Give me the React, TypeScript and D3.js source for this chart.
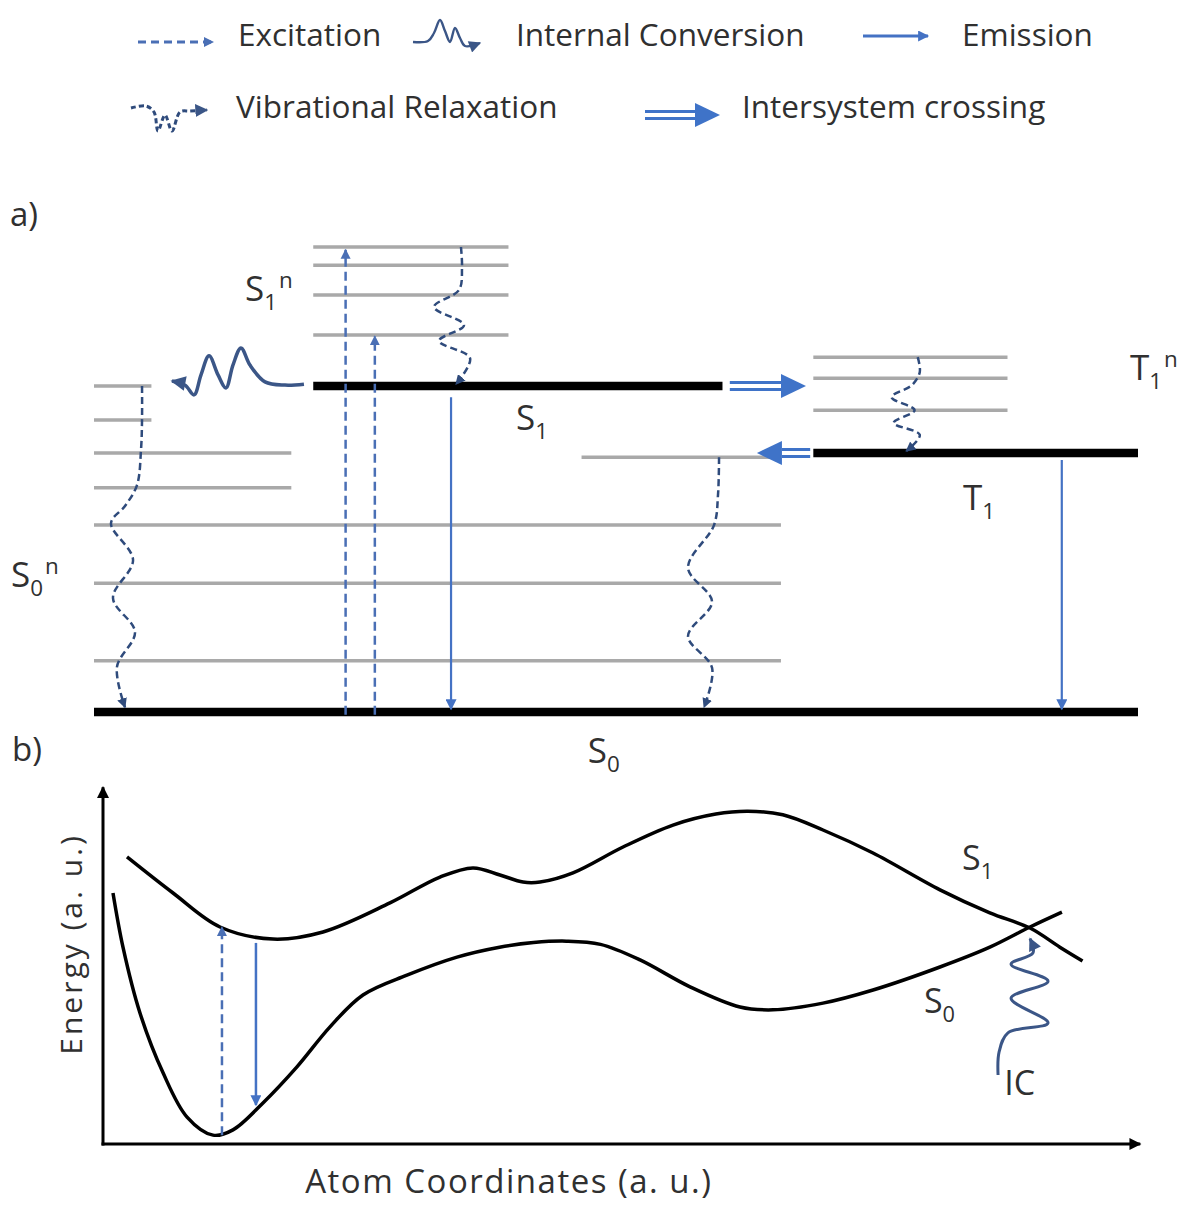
import React from 'react';
import * as d3 from 'd3';

const W = 1184;
const H = 1205;
const FONT = "'Open Sans', 'Noto Sans', sans-serif";

// ---- panel a) Jablonski diagram : x in diagram units (0-100), e = energy (a.u.)
const electronicStates = [
  { name: 'S0', e: 0, x0: 0, x1: 100 },
  { name: 'S1', e: 70.1, x0: 21, x1: 60.2 },
  { name: 'T1', e: 55.7, x0: 68.9, x1: 100 },
];

const s0VibLevels = [
  { e: 11, x0: 0, x1: 65.8 },
  { e: 27.7, x0: 0, x1: 65.8 },
  { e: 40.2, x0: 0, x1: 65.8 },
  { e: 48.2, x0: 0, x1: 18.9 },
  { e: 55.7, x0: 0, x1: 18.9 },
  { e: 62.8, x0: 0, x1: 5.5 },
  { e: 70.1, x0: 0, x1: 5.5 },
  { e: 54.8, x0: 46.7, x1: 65.8 },
];
const s1VibLevels = [
  { e: 81.1, x0: 21, x1: 39.7 },
  { e: 89.7, x0: 21, x1: 39.7 },
  { e: 96.1, x0: 21, x1: 39.7 },
  { e: 100, x0: 21, x1: 39.7 },
];
const t1VibLevels = [
  { e: 64.9, x0: 68.9, x1: 87.5 },
  { e: 71.8, x0: 68.9, x1: 87.5 },
  { e: 76.3, x0: 68.9, x1: 87.5 },
];

const excitations = [
  { x: 24.1, from: -0.6, to: 99.4 },
  { x: 26.9, from: -0.6, to: 80.8 },
];
const emissions = [
  { x: 34.2, from: 67.7, to: 0.6 },
  { x: 92.7, from: 54.2, to: 0.6 },
];
const iscArrows = [
  { from: 60.9, to: 68.2, e: 70.1 },
  { from: 68.6, to: 63.5, e: 55.7 },
];

// vibrational relaxation paths [x, e]
const vrS1 = [[35.15, 100], [35.25, 95.5], [34.96, 90.75], [32.57, 87.1], [35.44, 83.2], [33.05, 79.8], [36.02, 76.1], [34.67, 70.5]];
const vrS0 = [[4.6, 70.1], [4.6, 62.8], [4.5, 56.3], [4.12, 48.8], [2.97, 44.3], [1.63, 40.6], [3.74, 32.7], [1.82, 24.5], [3.93, 17.2], [2.2, 9.7], [2.97, 1.0]];
const vrT1toS0 = [[59.87, 54.8], [59.77, 46.7], [59.39, 40.2], [56.9, 31.0], [59.2, 23.7], [56.9, 16.3], [59.2, 9.5], [58.43, 1.0]];
const vrT1 = [[78.9, 76.3], [79.1, 73.1], [78.35, 70.3], [76.4, 67.7], [78.6, 64.9], [76.6, 62.2], [79.1, 59.6], [77.8, 56.1]];
// internal conversion S1 -> S0 (wavy)
const icTop = [[20.11, 70.5], [18.3, 70.3], [16.38, 71.0], [14.94, 74.6], [14.08, 78.3], [13.31, 74.6], [12.64, 69.7], [11.88, 72.5], [11.02, 76.6], [10.25, 72.5], [9.58, 68.2], [8.72, 70.3], [7.47, 71.2]];

const labelsA = [
  { main: 'S', sub: '1', sup: 'n', x: 14.46, e: 88.4 },
  { main: 'S', sub: '1', sup: '', x: 40.42, e: 60.6 },
  { main: 'T', sub: '1', sup: 'n', x: 99.23, e: 71.4 },
  { main: 'T', sub: '1', sup: '', x: 83.24, e: 43.4 },
  { main: 'S', sub: '0', sup: 'n', x: -7.95, e: 26.9 },
  { main: 'S', sub: '0', sup: '', x: 47.3, e: -11.0 },
];

// ---- panel b) potential energy curves : atom coordinate (0-100), energy (0-100)
const curveS1 = [[2.33, 81.1], [6.8, 70.9], [11.36, 61.3], [16.5, 57.9], [21.36, 59.9], [27.86, 68.1], [32.72, 75.4], [35.92, 78.0], [38.54, 76.0], [40.78, 74.0], [42.43, 74.0], [45.63, 76.6], [50.49, 83.9], [55.34, 90.1], [59.5, 93.2], [62.6, 94.0], [66.0, 93.0], [69.9, 88.7], [74.76, 82.2], [81.26, 71.8], [86.1, 65.3], [90.0, 61.0], [92.9, 55.6], [95.1, 51.7]];
const curveS0 = [[0.97, 70.9], [1.94, 55.6], [3.59, 37.0], [5.83, 20.1], [8.16, 7.6], [10.68, 2.5], [12.62, 4.0], [15.53, 11.6], [18.83, 21.8], [22.04, 33.1], [25.24, 42.1], [29.51, 47.7], [34.37, 52.8], [38.5, 55.6], [41.8, 56.9], [45.0, 57.3], [48.3, 56.4], [52.14, 52.0], [56.99, 44.4], [61.84, 38.7], [65.05, 37.9], [69.9, 39.8], [74.76, 43.5], [81.26, 50.0], [86.1, 55.6], [90.0, 61.3], [93.1, 65.5]];
const excitationB = { x: 11.55, from: 2.5, to: 61.3 };
const emissionB = { x: 14.85, from: 56.8, to: 11.0 };
const icBottom = [[86.9, 19.5], [87.0, 26.0], [87.86, 31.4], [91.75, 34.2], [88.16, 41.2], [91.75, 46.0], [88.16, 50.8], [90.29, 54.0], [90.0, 58.0]];
const labelsB = [
  { main: 'S', sub: '1', x: 83.4, e: 77.4 },
  { main: 'S', sub: '0', x: 79.7, e: 37.0 },
];

const legendRow1 = ['Excitation', 'Internal Conversion', 'Emission'];
const legendRow2 = ['Vibrational Relaxation', 'Intersystem crossing'];

const C = {
  exc: '#4a6fb5',
  em: '#4472c4',
  vr: '#2f4b7c',
  ic: '#3b5687',
  isc: '#3f73c8',
  grey: '#a9a9a9',
  text: '#303030',
};

function Marker({ id, color, w = 11, h = 11 }: { id: string; color: string; w?: number; h?: number }) {
  return (
    <marker id={id} viewBox="0 0 10 10" refX="9" refY="5" markerWidth={w} markerHeight={h}
      markerUnits="userSpaceOnUse" orient="auto">
      <path d="M0,0L10,5L0,10z" fill={color} stroke="none" />
    </marker>
  );
}

function StateLabel({ x, y, main, sub, sup, size }: any) {
  const s = size * 0.64;
  return (
    <text x={x} y={y} fontSize={size} fill={C.text} fontFamily={FONT}>
      {main}
      <tspan dy={9} fontSize={s}>{sub}</tspan>
      {sup ? <tspan dx={2} dy={-22} fontSize={s}>{sup}</tspan> : null}
    </text>
  );
}

function IscArrow({ x0, x1, y }: { x0: number; x1: number; y: number }) {
  const dir = Math.sign(x1 - x0);
  const head = 25;
  const xb = x1 - dir * head;
  return (
    <g>
      <line x1={x0} x2={xb} y1={y - 3.5} y2={y - 3.5} stroke={C.isc} strokeWidth={3} />
      <line x1={x0} x2={xb} y1={y + 3.5} y2={y + 3.5} stroke={C.isc} strokeWidth={3} />
      <path d={`M${xb},${y - 12}L${x1},${y}L${xb},${y + 12}z`} fill={C.isc} />
    </g>
  );
}

export default function App() {
  const xa = d3.scaleLinear().domain([0, 100]).range([94, 1138]);
  const ea = d3.scaleLinear().domain([0, 100]).range([712, 247]);
  const xb = d3.scaleLinear().domain([0, 100]).range([103, 1133]);
  const eb = d3.scaleLinear().domain([0, 100]).range([1144, 790]);

  const lineA = d3.line<number[]>().x(d => xa(d[0])).y(d => ea(d[1])).curve(d3.curveCatmullRom.alpha(0.5));
  const lineB = d3.line<number[]>().x(d => xb(d[0])).y(d => eb(d[1])).curve(d3.curveCatmullRom.alpha(0.5));
  const glyph = d3.line<number[]>().curve(d3.curveCatmullRom.alpha(0.5));

  const greyLevels = [...s0VibLevels, ...s1VibLevels, ...t1VibLevels];

  const legX1 = [238, 516, 962];
  const legX2 = [236, 742];

  return (
    <svg width={W} height={H} style={{ position: 'absolute', left: 0, top: 0, background: '#fff' }}>
      <defs>
        <Marker id="hExc" color={C.exc} w={10} h={11} />
        <Marker id="hEm" color={C.em} w={12} h={11} />
        <Marker id="hVr" color={C.vr} w={10} h={10} />
        <Marker id="hIc" color={C.ic} w={16} h={15} />
        <Marker id="hIcS" color={C.ic} w={13} h={12} />
        <Marker id="hIcB" color={C.ic} w={14} h={13} />
        <Marker id="hVrL" color={C.ic} w={13} h={13} />
        <Marker id="hAx" color="#000" w={14} h={12} />
      </defs>

      {/* legend */}
      <g fontFamily={FONT} fontSize={31.5} fill={C.text}>
        {legendRow1.map((t, i) => <text key={t} x={legX1[i]} y={46}>{t}</text>)}
        {legendRow2.map((t, i) => <text key={t} x={legX2[i]} y={118}>{t}</text>)}
      </g>
      <line x1={138} x2={213} y1={42} y2={42} stroke={C.exc} strokeWidth={2.8} strokeDasharray="8,5" markerEnd="url(#hExc)" />
      <path d={glyph([[413, 42], [428, 41], [434, 33], [440, 20], [445, 31], [450, 42], [455, 28], [460, 38], [465, 46], [480, 43]]) || ''}
        fill="none" stroke={C.ic} strokeWidth={2.4} markerEnd="url(#hIcS)" />
      <line x1={863} x2={928} y1={36} y2={36} stroke={C.em} strokeWidth={2.8} markerEnd="url(#hEm)" />
      <path d={glyph([[131, 108], [146, 106], [154, 112], [158, 131], [165, 115], [172, 131], [180, 112], [190, 111], [207, 110]]) || ''}
        fill="none" stroke={C.vr} strokeWidth={3} strokeDasharray="5,3" markerEnd="url(#hVrL)" />
      <IscArrow x0={645} x1={720} y={115} />

      {/* panel labels */}
      <text x={10} y={226} fontFamily={FONT} fontSize={33} fill={C.text}>a)</text>
      <text x={12} y={761} fontFamily={FONT} fontSize={33} fill={C.text}>b)</text>

      {/* panel a) levels */}
      {greyLevels.map((l, i) => (
        <line key={i} x1={xa(l.x0)} x2={xa(l.x1)} y1={ea(l.e)} y2={ea(l.e)} stroke={C.grey} strokeWidth={3.5} />
      ))}
      {electronicStates.map(s => (
        <line key={s.name} x1={xa(s.x0)} x2={xa(s.x1)} y1={ea(s.e)} y2={ea(s.e)} stroke="#000" strokeWidth={8.5} />
      ))}

      {excitations.map((a, i) => (
        <line key={i} x1={xa(a.x)} x2={xa(a.x)} y1={ea(a.from)} y2={ea(a.to)} stroke={C.exc} strokeWidth={2.5}
          strokeDasharray="9,5" markerEnd="url(#hExc)" />
      ))}
      {emissions.map((a, i) => (
        <line key={i} x1={xa(a.x)} x2={xa(a.x)} y1={ea(a.from)} y2={ea(a.to)} stroke={C.em} strokeWidth={2.2}
          markerEnd="url(#hEm)" />
      ))}
      {[vrS1, vrS0, vrT1toS0, vrT1].map((p, i) => (
        <path key={i} d={lineA(p) || ''} fill="none" stroke={C.vr} strokeWidth={2.5} strokeDasharray="7,4"
          markerEnd="url(#hVr)" />
      ))}
      <path d={lineA(icTop) || ''} fill="none" stroke={C.ic} strokeWidth={3.5} markerEnd="url(#hIc)" />
      {iscArrows.map((a, i) => (
        <IscArrow key={i} x0={xa(a.from)} x1={xa(a.to)} y={ea(a.e)} />
      ))}
      {labelsA.map((l, i) => (
        <StateLabel key={i} x={xa(l.x)} y={ea(l.e)} main={l.main} sub={l.sub} sup={l.sup} size={35} />
      ))}

      {/* panel b) axes */}
      <line x1={xb(0)} x2={xb(0)} y1={eb(0) + 1.5} y2={eb(100.8)} stroke="#000" strokeWidth={3} markerEnd="url(#hAx)" />
      <line x1={xb(0) - 1.5} x2={xb(100.7)} y1={eb(0)} y2={eb(0)} stroke="#000" strokeWidth={3} markerEnd="url(#hAx)" />
      <text transform={`translate(82,${eb(56.5)}) rotate(-90)`} textAnchor="middle" fontFamily={FONT} fontSize={30}
        letterSpacing={3} fill={C.text}>Energy (a. u.)</text>
      <text x={(xb(19.5) + xb(59.3)) / 2} y={1193} textAnchor="middle" fontFamily={FONT} fontSize={33}
        letterSpacing={1.5} fill={C.text}>
        Atom Coordinates (a. u.)
      </text>

      <path d={lineB(curveS1) || ''} fill="none" stroke="#000" strokeWidth={3.5} />
      <path d={lineB(curveS0) || ''} fill="none" stroke="#000" strokeWidth={3.5} />
      <line x1={xb(excitationB.x)} x2={xb(excitationB.x)} y1={eb(excitationB.from)} y2={eb(excitationB.to)}
        stroke={C.exc} strokeWidth={2.5} strokeDasharray="9,5" markerEnd="url(#hExc)" />
      <line x1={xb(emissionB.x)} x2={xb(emissionB.x)} y1={eb(emissionB.from)} y2={eb(emissionB.to)}
        stroke={C.em} strokeWidth={2.5} markerEnd="url(#hEm)" />
      <path d={lineB(icBottom) || ''} fill="none" stroke={C.ic} strokeWidth={3} markerEnd="url(#hIcB)" />
      {labelsB.map((l, i) => (
        <StateLabel key={i} x={xb(l.x)} y={eb(l.e)} main={l.main} sub={l.sub} sup="" size={34} />
      ))}
      <text x={xb(87.5)} y={eb(13.8)} fontFamily={FONT} fontSize={34} fill={C.text}>IC</text>
    </svg>
  );
}
